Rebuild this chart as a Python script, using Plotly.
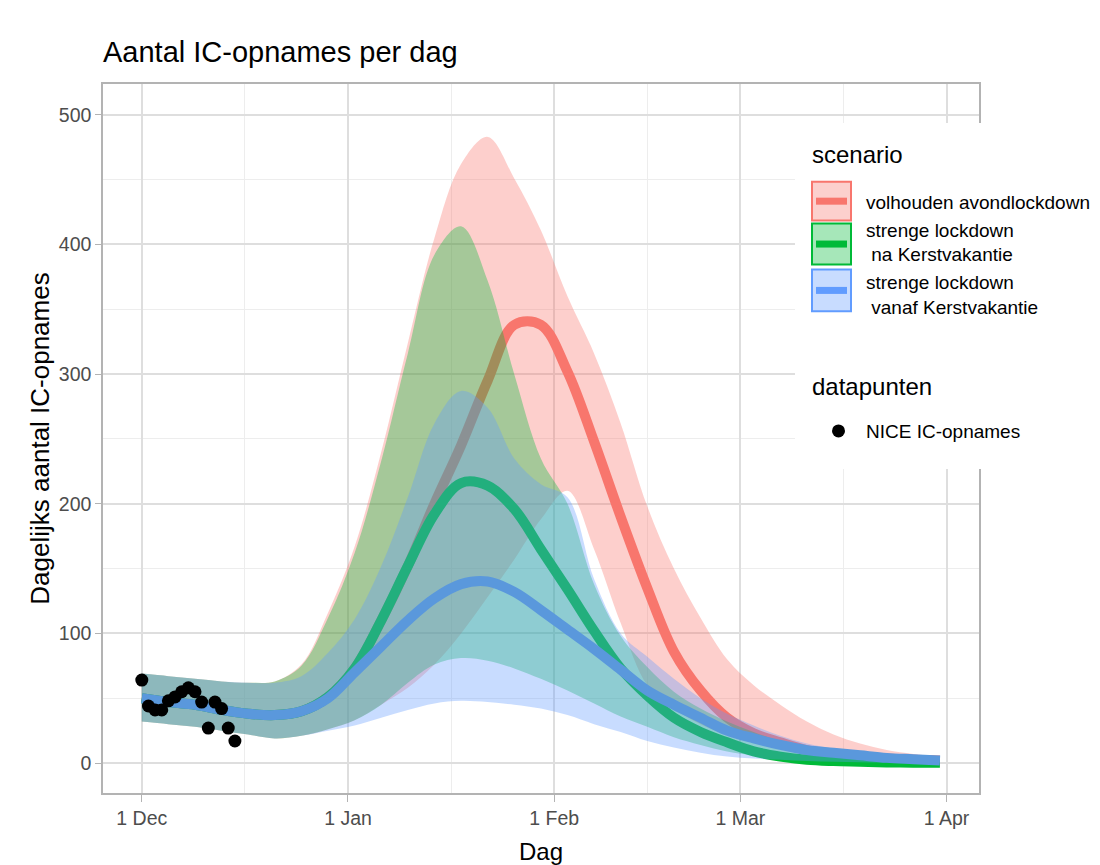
import pandas as pd
import plotly.graph_objects as go

# ---------------- data ----------------
# model output sampled every 4 days, 1 Dec 2020 .. 31 Mar 2021
datums = pd.date_range("2020-12-01", "2021-03-31", freq="4D")

scenario_labels = [
    "volhouden avondlockdown",
    "strenge lockdown<br> na Kerstvakantie",
    "strenge lockdown<br> vanaf Kerstvakantie",
]

rood_mid = [50, 47, 45, 41, 38, 37, 40, 51, 73, 110, 152, 200, 245, 295, 338, 338,
            302, 248, 190, 135, 86, 56, 35, 23, 16, 10, 7, 5, 3.5, 2.5, 2]
rood_laag = [32, 30, 28, 25, 22, 19, 21, 26, 33, 45, 58, 76, 100, 128, 157, 188,
             210, 165, 108, 60, 42, 30, 22, 16, 12, 9, 6.5, 5, 4, 3, 2.5]
rood_hoog = [69, 67, 65, 63, 62, 63, 76, 116, 167, 240, 324, 405, 462, 483, 451, 411,
             360, 316, 262, 198, 150, 112, 80, 60, 45, 32, 22, 15, 10, 7, 5]

groen_mid = [50, 47, 45, 41, 38, 37, 40, 51, 73, 110, 152, 192, 216, 214, 196, 165,
             134, 102, 73, 52, 35, 24, 16, 9, 5, 2.5, 1.5, 1, 0.5, 0.3, 0.2]
groen_laag = [32, 30, 28, 25, 22, 19, 21, 26, 33, 45, 62, 76, 81, 79, 73, 65,
              56, 46, 36, 28, 20, 14, 9, 6, 4, 2.5, 1.5, 1, 0.6, 0.4, 0.3]
groen_hoog = [69, 67, 65, 63, 62, 63, 75, 112, 162, 233, 316, 392, 414, 372, 300, 235,
              200, 138, 98, 74, 55, 42, 32, 24, 17, 12, 8, 5.5, 4, 3, 2.5]

blauw_mid = [50, 47, 45, 41, 38, 37, 40, 50, 70, 90, 110, 127, 138, 140, 132, 118,
             103, 88, 72, 56, 45, 35, 25, 19, 14, 10, 8, 6, 4, 3, 2]
blauw_laag = [32, 30, 28, 25, 22, 19, 21, 25, 29, 35, 41, 46, 48, 47, 45, 42,
              37, 30, 24, 17, 12, 8, 5, 3.5, 2.5, 1.5, 1, 0.7, 0.5, 0.4, 0.3]
blauw_hoog = [69, 67, 65, 63, 62, 62, 67, 85, 111, 152, 205, 262, 287, 274, 235, 215,
              205, 142, 100, 82, 65, 50, 38, 29, 21, 15, 11, 8, 6, 4.5, 4]

# NICE observations, 1..15 Dec 2020
obs_datums = pd.date_range("2020-12-01", "2020-12-15", freq="D")
obs_waarden = [64, 44, 41, 41, 48, 51, 55, 58, 55, 47, 27, 47, 42, 27, 17]
obs_label = "NICE IC-opnames"

legend_titles = ["scenario", "datapunten"]

tick_datums = ["2020-12-01", "2021-01-01", "2021-02-01", "2021-03-01", "2021-04-01"]
tick_labels = ["1 Dec", "1 Jan", "1 Feb", "1 Mar", "1 Apr"]
minor_datums = ["2020-12-16 12:00", "2021-01-16 12:00", "2021-02-15", "2021-03-16 12:00"]
y_ticks = [0, 100, 200, 300, 400, 500]
y_minor = [50, 150, 250, 350, 450]

# ---------------- styling ----------------
FONT = "Liberation Sans, Arial, Helvetica, sans-serif"
line_cols = ["#F8766D", "#00BA38", "#5A98DC"]
key_line_cols = ["#F8766D", "#00BA38", "#619CFF"]
fill_cols = ["rgba(248,118,109,0.35)", "rgba(0,186,56,0.35)", "rgba(97,156,255,0.35)"]
key_fill = ["#FCD0CD", "#A6E7B9", "#C8DCFF"]

W, H = 1100, 865
OFF = 8  # page offset of the figure inside the browser window
# plot panel in window pixels
L, R, T, B = 103, 979, 84, 795


def px_x(p):
    return (p - L) / (R - L)


def px_y(p):
    return (B - p) / (B - T)


fig = go.Figure()

series = [
    (rood_mid, rood_laag, rood_hoog),
    (groen_mid, groen_laag, groen_hoog),
    (blauw_mid, blauw_laag, blauw_hoog),
]

for i, (mid, lo, hi) in enumerate(series):
    fig.add_trace(go.Scatter(x=datums, y=lo, mode="lines",
                             line=dict(width=0, shape="spline"),
                             showlegend=False, hoverinfo="skip"))
    fig.add_trace(go.Scatter(x=datums, y=hi, mode="lines",
                             line=dict(width=0, shape="spline"),
                             fill="tonexty", fillcolor=fill_cols[i],
                             showlegend=False, hoverinfo="skip"))
    fig.add_trace(go.Scatter(x=datums, y=mid, mode="lines",
                             line=dict(width=10, shape="spline", color=line_cols[i]),
                             showlegend=False, name=scenario_labels[i]))

# legend entries for the scenarios (keys drawn as shapes below)
for i, lab in enumerate(scenario_labels):
    fig.add_trace(go.Scatter(x=[None], y=[None], mode="lines",
                             line=dict(width=0, color=key_line_cols[i]),
                             name=lab, legend="legend", showlegend=True))

fig.add_trace(go.Scatter(x=obs_datums, y=obs_waarden, mode="markers",
                         marker=dict(size=13, color="black"),
                         name=obs_label, legend="legend2", showlegend=True))

shapes = [
    # white legend background covering the right part of the panel
    dict(type="rect", xref="paper", yref="paper",
         x0=px_x(795), x1=px_x(1110), y0=px_y(470), y1=px_y(123),
         fillcolor="white", line=dict(width=0), layer="above"),
]
key_rows = [(182, 221), (224, 265), (270, 312)]
for i, (ya, yb) in enumerate(key_rows):
    shapes.append(dict(type="rect", xref="paper", yref="paper",
                       x0=px_x(812), x1=px_x(851), y0=px_y(yb), y1=px_y(ya),
                       fillcolor=key_fill[i], line=dict(color=key_line_cols[i], width=2),
                       layer="above"))
    ym = (ya + yb) / 2
    shapes.append(dict(type="line", xref="paper", yref="paper",
                       x0=px_x(816), x1=px_x(847), y0=px_y(ym), y1=px_y(ym),
                       line=dict(color=key_line_cols[i], width=7), layer="above"))

annotations = [
    dict(text=legend_titles[0], xref="paper", yref="paper", x=px_x(810), y=px_y(155),
         xanchor="left", yanchor="middle", showarrow=False,
         font=dict(size=24, color="black", family=FONT)),
    dict(text=legend_titles[1], xref="paper", yref="paper", x=px_x(810), y=px_y(387),
         xanchor="left", yanchor="middle", showarrow=False,
         font=dict(size=24, color="black", family=FONT)),
]

fig.update_layout(
    width=W, height=H,
    margin=dict(l=L - OFF, r=W - (R - OFF), t=T - OFF, b=H - (B - OFF)),
    paper_bgcolor="white", plot_bgcolor="white",
    font=dict(family=FONT, color="black"),
    title=dict(text="Aantal IC-opnames per dag", x=0, xref="paper", xanchor="left",
               y=1 - (52 - OFF) / H, yref="container", yanchor="middle",
               font=dict(size=29, color="black", family=FONT)),
    shapes=shapes,
    annotations=annotations,
    legend=dict(
        font=dict(size=19, color="black"),
        x=px_x(811), xanchor="left", y=px_y(183), yanchor="top",
        bgcolor="rgba(0,0,0,0)", borderwidth=0, itemwidth=45,
        traceorder="normal",
    ),
    legend2=dict(
        font=dict(size=19, color="black"),
        x=px_x(811), xanchor="left", y=px_y(413), yanchor="top",
        bgcolor="rgba(0,0,0,0)", borderwidth=0, itemwidth=45,
    ),
    showlegend=True,
)

fig.update_xaxes(
    type="date",
    range=["2020-11-25 04:00", "2021-04-05 21:00"],
    tickmode="array", tickvals=tick_datums, ticktext=tick_labels,
    tickfont=dict(size=19.5, color="#4D4D4D"),
    ticks="outside", ticklen=7, tickcolor="#B3B3B3", tickwidth=1.2,
    showgrid=True, gridcolor="#DEDEDE", gridwidth=1.5,
    minor=dict(tickmode="array", tickvals=minor_datums, showgrid=True,
               gridcolor="#EDEDED", gridwidth=0.9, ticks=""),
    showline=True, linecolor="#B3B3B3", linewidth=1.5, mirror=True,
    zeroline=False,
    title=dict(text="Dag", font=dict(size=24, color="black"), standoff=15),
)
fig.update_yaxes(
    range=[-23.1, 523.8],
    tickmode="array", tickvals=y_ticks,
    tickfont=dict(size=19.5, color="#4D4D4D"),
    ticks="outside", ticklen=6, tickcolor="#B3B3B3", tickwidth=1.2,
    showgrid=True, gridcolor="#DEDEDE", gridwidth=1.5,
    minor=dict(tickmode="array", tickvals=y_minor, showgrid=True,
               gridcolor="#EDEDED", gridwidth=0.9, ticks=""),
    showline=True, linecolor="#B3B3B3", linewidth=1.5, mirror=True,
    zeroline=False,
    title=dict(text="Dagelijks aantal IC-opnames", font=dict(size=26, color="black"),
               standoff=2),
)

fig.write_html("out.html")
